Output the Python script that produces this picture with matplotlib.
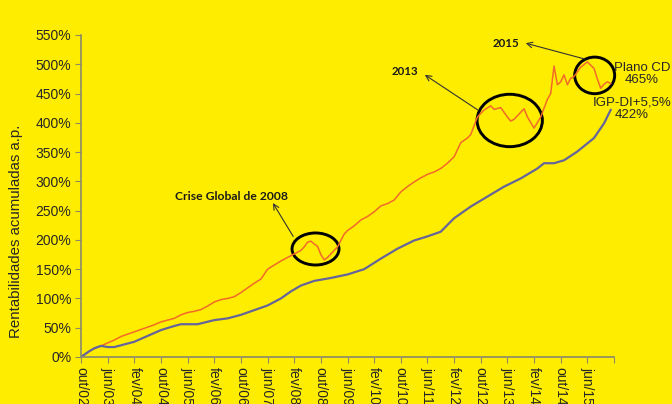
import matplotlib
matplotlib.use('Agg')
import matplotlib.pyplot as plt
from matplotlib.patches import Ellipse

# month index 0 = out/02
tick_labels = ['out/02', 'jun/03', 'fev/04', 'out/04', 'jun/05', 'fev/06', 'out/06',
               'jun/07', 'fev/08', 'out/08', 'jun/09', 'fev/10', 'out/10', 'jun/11',
               'fev/12', 'out/12', 'jun/13', 'fev/14', 'out/14', 'jun/15']

plano_m = [0, 3, 6, 8, 10, 12, 14, 16, 18, 20, 22, 24, 26, 28, 30, 32, 34, 36, 38, 40,
           42, 44, 46, 48, 50, 52, 54, 56, 58, 60, 62, 64, 66, 67, 68, 69, 70, 71, 72, 73,
           74, 75, 77, 79, 80, 82, 84, 86, 88, 90, 92, 94, 96, 98, 100, 102, 104, 106, 108,
           110, 112, 114, 116, 117, 119, 121, 123, 124, 126, 128, 129, 130, 131, 133, 134,
           136, 138, 140, 141, 142, 143, 144, 145, 146, 147, 148, 150, 152, 154, 155, 156,
           157, 158, 159]
plano_v = [0, 12, 19, 24, 29, 35, 39, 43, 47, 51, 55, 60, 63, 66, 72, 76, 78, 81, 87, 94,
           98, 100, 103, 110, 118, 126, 133, 150, 157, 164, 170, 176, 182, 188, 196, 198, 193, 189, 175, 166,
           170, 176, 188, 210, 216, 224, 234, 240, 248, 258, 262, 268, 282, 291, 299, 306, 312, 316, 322,
           331, 342, 366, 374, 380, 410, 422, 429, 423, 426, 410, 403, 406, 412, 424, 410,
           391, 410, 440, 450, 497, 465, 470, 482, 465, 476, 479, 495, 504, 493, 475, 459,
           466, 470, 467]

igp_m = [0, 2, 4, 6, 8, 10, 12, 16, 20, 24, 28, 30, 35, 40, 44, 48, 52, 56, 60, 63, 66,
         70, 75, 80, 85, 90, 95, 100, 104, 108, 112, 117, 122, 127, 132, 137, 139, 142,
         145, 149, 154, 157, 159]
igp_v = [0, 8, 15, 19, 17, 17, 20, 26, 36, 46, 53, 56, 56, 63, 66, 72, 80, 88, 100, 112, 122,
         130, 135, 141, 150, 168, 185, 199, 206, 214, 237, 257, 274, 291, 305, 322, 331, 331,
         336, 351, 374, 399, 422]

bg = '#FFED00'
txt = '#262626'
plt.rcParams['font.family'] = ['Liberation Sans', 'DejaVu Sans']

fig = plt.figure(figsize=(6.72, 4.04), dpi=100, facecolor=bg)
ax = fig.add_axes([81/672, 47/404, 533/672, 322/404], facecolor=bg)

ax.plot(plano_m, plano_v, color='#F26A2A', lw=1.1)
ax.plot(igp_m, igp_v, color='#65659A', lw=1.6)

ax.set_xlim(0, 160)
ax.set_ylim(0, 550)
ax.set_yticks(range(0, 551, 50))
ax.set_yticklabels([str(v) + '%' for v in range(0, 551, 50)], fontsize=10, color=txt)
ax.set_xticks(range(0, 161, 8))
ax.set_xticklabels(tick_labels + [''], rotation=-90, fontsize=10, color=txt, va='top')
ax.tick_params(axis='both', length=4, color='#8a8a6a', pad=3)
for s in ['top', 'right']:
    ax.spines[s].set_visible(False)
for s in ['left', 'bottom']:
    ax.spines[s].set_color('#8a8a6a')
    ax.spines[s].set_linewidth(1.2)

fig.text(16/672, 1 - 231/404, 'Rentabilidades acumuladas a.p.', rotation=90,
         ha='center', va='center', fontsize=10.8, color=txt)

# circles around the drops
for cx, cy, w, h in [(70.4, 184.5, 14.1, 54.7), (128.7, 404, 19.6, 89.5), (154.2, 481, 12, 62.5)]:
    ax.add_patch(Ellipse((cx, cy), w, h, fill=False, ec='black', lw=2.1, clip_on=False))

bold = dict(fontweight='bold', color='#1a1a1a', family=['Lato', 'DejaVu Sans'])
ax.text(45.3, 275, 'Crise Global de 2008', ha='center', va='center', fontsize=8.7, **bold)
ax.text(97.2, 487, '2013', ha='center', va='center', fontsize=8.3, **bold)
ax.text(127.5, 536, '2015', ha='center', va='center', fontsize=8.3, **bold)

arr = dict(arrowstyle='->', color='#333333', lw=0.8, shrinkA=0, shrinkB=0)
ax.annotate('', xy=(57.6, 263), xytext=(63.7, 206), arrowprops=arr)
ax.annotate('', xy=(103.2, 482), xytext=(119.1, 422), arrowprops=arr)
ax.annotate('', xy=(133.5, 536), xytext=(151.2, 509), arrowprops=arr, annotation_clip=False)

fig.text(642/672, 1 - 74/404, 'Plano CD\n465%', ha='center', va='center',
         fontsize=9.5, color=txt, linespacing=1.1)
fig.text(632/672, 1 - 109/404, 'IGP-DI+5,5%\n422%', ha='center', va='center',
         fontsize=9.5, color=txt, linespacing=1.1)

fig.savefig('out.png', dpi=100, facecolor=bg)
